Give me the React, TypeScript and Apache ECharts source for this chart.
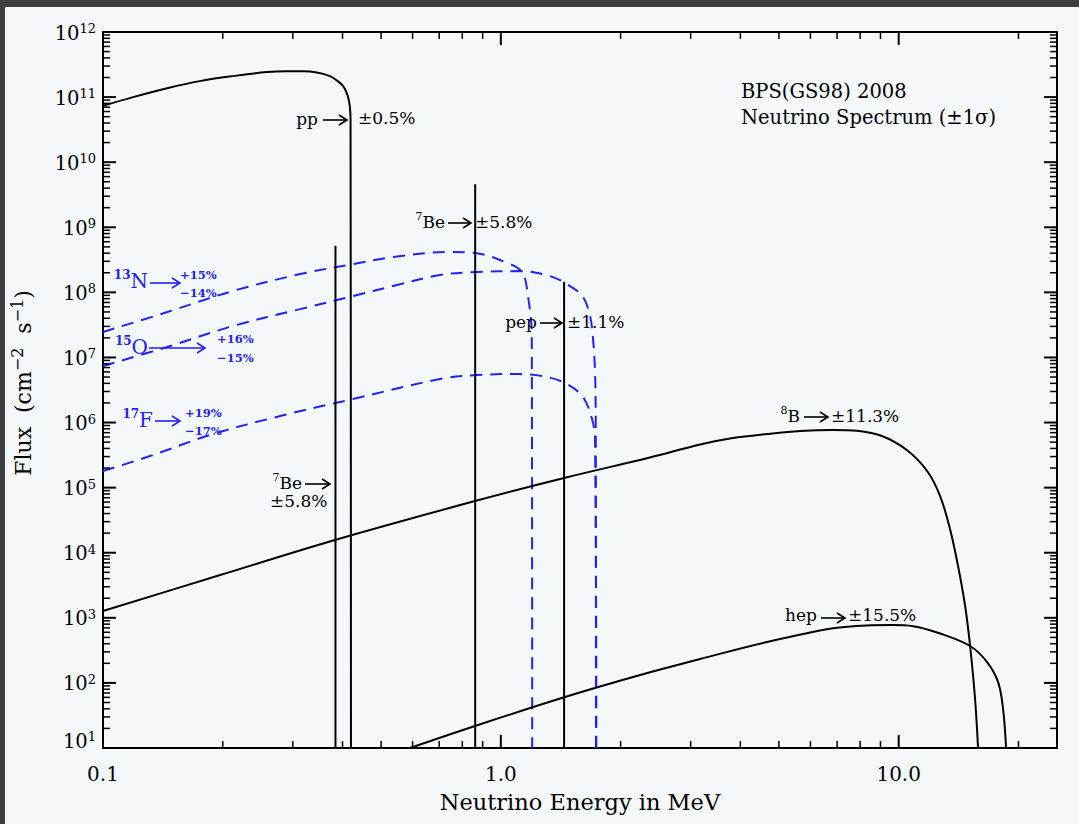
import React, { useEffect, useRef } from "react";
import * as echarts from "echarts";

// ---------- axes ----------
const X_MIN = 0.1;
const X_MAX = 25;
const Y_MIN = 10;
const Y_MAX = 1e12;
const X_MAJOR = [0.1, 1, 10];
const X_MAJOR_LABELS = ["0.1", "1.0", "10.0"];
const X_MINOR = [0.2, 0.3, 0.4, 0.5, 0.6, 0.7, 0.8, 0.9, 2, 3, 4, 5, 6, 7, 8, 9, 20];
const Y_EXPONENTS = [1, 2, 3, 4, 5, 6, 7, 8, 9, 10, 11, 12];
const Y_MINOR_MULT = [2, 3, 4, 5, 6, 7, 8, 9];

// ---------- spectra: [energy (MeV), flux] ----------
const PP = [
  [0.1, 7.35e10], [0.119, 1.0e11], [0.145, 1.37e11], [0.175, 1.76e11], [0.212, 2.1e11],
  [0.258, 2.42e11], [0.29, 2.5e11], [0.32, 2.5e11], [0.345, 2.38e11], [0.372, 2.1e11],
  [0.387, 1.8e11], [0.401, 1.49e11], [0.408, 1.23e11], [0.413, 1.0e11], [0.417, 7.4e10],
  [0.419, 4.6e10], [0.42, 10],
];
const BE7_384 = [[0.384, 10], [0.384, 5.2e8]];
const BE7_862 = [[0.862, 10], [0.862, 4.6e9]];
const PEP = [[1.442, 10], [1.442, 1.46e8]];
const N13 = [
  [0.1, 2.46e7], [0.145, 4.98e7], [0.212, 1.05e8], [0.313, 1.91e8], [0.425, 2.72e8],
  [0.536, 3.49e8], [0.733, 4.16e8], [0.861, 4.02e8], [1.025, 2.92e8], [1.13, 2.05e8],
  [1.17, 8.77e7], [1.196, 2.13e7], [1.199, 10],
];
const O15 = [
  [0.1, 7.38e6], [0.145, 1.45e7], [0.212, 3.04e7], [0.313, 5.53e7], [0.425, 8.77e7],
  [0.536, 1.25e8], [0.703, 1.85e8], [0.871, 2.05e8], [1.118, 2.12e8], [1.329, 1.78e8],
  [1.493, 1.25e8], [1.609, 8.47e7], [1.676, 4.33e7], [1.705, 1.92e7], [1.725, 5.97e6],
  [1.732, 7.9e5], [1.734, 10],
];
const F17 = [
  [0.1, 1.8e5], [0.129, 2.95e5], [0.189, 6.65e5], [0.279, 1.26e6], [0.425, 2.3e6],
  [0.703, 4.66e6], [0.871, 5.37e6], [1.098, 5.56e6], [1.307, 5.0e6], [1.467, 3.9e6],
  [1.609, 2.47e6], [1.695, 1.13e6], [1.725, 5.58e5], [1.738, 10],
];
const B8 = [
  [0.1, 1.27e3], [0.197, 4.54e3], [0.383, 1.57e4], [0.861, 6.22e4], [1.45, 1.42e5],
  [2.37, 2.9e5], [3.17, 4.6e5], [3.83, 5.78e5], [4.67, 6.66e5], [5.65, 7.4e5],
  [6.84, 7.67e5], [7.86, 7.45e5], [9.14, 6.1e5], [10.5, 3.75e5], [11.79, 1.8e5],
  [12.71, 7.43e4], [13.46, 2.31e4], [14.1, 6.25e3], [14.69, 1.52e3], [15.12, 369],
  [15.56, 56.6], [15.83, 10],
];
const HEP = [
  [0.591, 10], [0.861, 21.8], [1.45, 60.7], [2.24, 132], [3.17, 233], [4.67, 425],
  [6.84, 690], [8.3, 765], [9.6, 775], [10.87, 745], [12.71, 575], [15.12, 369],
  [16.68, 209], [17.78, 103], [18.3, 39.7], [18.62, 10],
];

const FONT = '"DejaVu Serif", serif';
const BLUE = "#2420f0";
const BLACK = "#000000";

// ---------- tick data (value anchors on the frame) ----------
function buildTicks() {
  const t: number[][] = [];
  X_MAJOR.forEach((v, i) => {
    t.push([v, Y_MIN, 0, 1, i]);
    t.push([v, Y_MAX, 1, 1, -1]);
  });
  X_MINOR.forEach((v) => {
    t.push([v, Y_MIN, 0, 0, -1]);
    t.push([v, Y_MAX, 1, 0, -1]);
  });
  Y_EXPONENTS.forEach((e) => {
    const v = Math.pow(10, e);
    t.push([X_MIN, v, 2, 1, e]);
    t.push([X_MAX, v, 3, 1, -1]);
    if (e < 12) {
      Y_MINOR_MULT.forEach((m) => {
        t.push([X_MIN, m * v, 2, 0, -1]);
        t.push([X_MAX, m * v, 3, 0, -1]);
      });
    }
  });
  return t;
}

const Y_RICH = {
  b: { fontSize: 19.5, fontFamily: FONT, lineHeight: 22, fill: BLACK },
  s: { fontSize: 13, fontFamily: FONT, lineHeight: 14, verticalAlign: "top", fill: BLACK },
};

function renderTick(params: any, api: any) {
  const p = api.coord([api.value(0), api.value(1)]);
  const side = api.value(2);
  const major = api.value(3) === 1;
  const lab = api.value(4);
  const len = major ? 13 : 7;
  let x2 = p[0];
  let y2 = p[1];
  if (side === 0) y2 -= len;
  else if (side === 1) y2 += len;
  else if (side === 2) x2 += len;
  else x2 -= len;
  const children: any[] = [
    {
      type: "line",
      shape: { x1: p[0], y1: p[1], x2, y2 },
      style: { stroke: BLACK, lineWidth: major ? 2 : 1.5 },
    },
  ];
  if (side === 0 && lab >= 0) {
    children.push({
      type: "text",
      x: p[0],
      y: p[1] + 26,
      style: {
        text: X_MAJOR_LABELS[lab],
        fontSize: 20,
        fontFamily: FONT,
        fill: BLACK,
        align: "center",
        verticalAlign: "middle",
      },
    });
  }
  if (side === 2 && lab >= 0) {
    children.push({
      type: "text",
      x: p[0] - 7,
      y: p[1] + (lab === 1 ? -7 : 1),
      style: {
        text: "{b|10}{s|" + lab + "}",
        rich: Y_RICH,
        fill: BLACK,
        align: "right",
        verticalAlign: "middle",
      },
    });
  }
  return { type: "group", children };
}

// ---------- annotation helpers (pixel placement) ----------
function arrow(x1: number, x2: number, y: number, color: string) {
  return [
    { type: "line", z: 20, shape: { x1, y1: y, x2, y2: y }, style: { stroke: color, lineWidth: 1.6 } },
    {
      type: "polyline",
      z: 20,
      shape: { points: [[x2 - 8, y - 5], [x2, y], [x2 - 8, y + 5]] },
      style: { stroke: color, lineWidth: 1.6, fill: "none" },
    },
  ];
}
function txt(x: number, y: number, text: string, rich: any, align: string, color: string) {
  return {
    type: "text",
    z: 20,
    x,
    y,
    style: { text, rich, fill: color, align, verticalAlign: "middle" },
  };
}
const BK_RICH = {
  m: { fontSize: 17, fontFamily: FONT, lineHeight: 22, fill: BLACK },
  s: { fontSize: 11, fontFamily: FONT, lineHeight: 13, verticalAlign: "top", fill: BLACK },
};
const BL_RICH = {
  m: { fontSize: 20, fontFamily: FONT, lineHeight: 24, fill: BLUE },
  s: { fontSize: 12, fontFamily: FONT, fontWeight: "bold", lineHeight: 14, verticalAlign: "top", fill: BLUE },
  p: { fontSize: 11.5, fontFamily: FONT, fontWeight: "bold", lineHeight: 14, fill: BLUE },
};
const TITLE_RICH = {
  t: { fontSize: 19.5, fontFamily: FONT, fill: BLACK },
};
const AX_RICH = {
  a: { fontSize: 22.5, fontFamily: FONT, lineHeight: 28, fill: BLACK },
  s: { fontSize: 16, fontFamily: FONT, lineHeight: 17, verticalAlign: "top", fill: BLACK },
};
const YT_RICH = {
  a: { fontSize: 22, fontFamily: FONT, lineHeight: 28, fill: BLACK },
  s: { fontSize: 16, fontFamily: FONT, lineHeight: 17, verticalAlign: "top", fill: BLACK },
};

function buildGraphics() {
  const g: any[] = [];
  // pp
  g.push(txt(318, 119, "{m|pp}", BK_RICH, "right", BLACK));
  g.push(...arrow(323, 347, 120, BLACK));
  g.push(txt(358, 118, "{m|±0.5%}", BK_RICH, "left", BLACK));
  // 7Be upper
  g.push(txt(445, 222, "{s|7}{m|Be}", BK_RICH, "right", BLACK));
  g.push(...arrow(448, 471, 223, BLACK));
  g.push(txt(475, 222, "{m|±5.8%}", BK_RICH, "left", BLACK));
  // pep
  g.push(txt(537, 322, "{m|pep}", BK_RICH, "right", BLACK));
  g.push(...arrow(540, 562, 323, BLACK));
  g.push(txt(567, 322, "{m|±1.1%}", BK_RICH, "left", BLACK));
  // 7Be lower
  g.push(txt(302, 483, "{s|7}{m|Be}", BK_RICH, "right", BLACK));
  g.push(...arrow(305, 330, 484, BLACK));
  g.push(txt(270, 501, "{m|±5.8%}", BK_RICH, "left", BLACK));
  // 8B
  g.push(txt(800, 416, "{s|8}{m|B}", BK_RICH, "right", BLACK));
  g.push(...arrow(804, 828, 417, BLACK));
  g.push(txt(831, 416, "{m|±11.3%}", BK_RICH, "left", BLACK));
  // hep
  g.push(txt(817, 615, "{m|hep}", BK_RICH, "right", BLACK));
  g.push(...arrow(821, 845, 618, BLACK));
  g.push(txt(848, 615, "{m|±15.5%}", BK_RICH, "left", BLACK));
  // 13N
  g.push(txt(148, 281, "{s|13}{m|N}", BL_RICH, "right", BLUE));
  g.push(...arrow(150, 180, 283, BLUE));
  g.push(txt(180, 275, "{p|+15%}", BL_RICH, "left", BLUE));
  g.push(txt(180, 293, "{p|−14%}", BL_RICH, "left", BLUE));
  // 15O
  g.push(txt(148, 347, "{s|15}{m|O}", BL_RICH, "right", BLUE));
  g.push(...arrow(149, 205, 348, BLUE));
  g.push(txt(217, 339, "{p|+16%}", BL_RICH, "left", BLUE));
  g.push(txt(217, 358, "{p|−15%}", BL_RICH, "left", BLUE));
  // 17F
  g.push(txt(153, 420, "{s|17}{m|F}", BL_RICH, "right", BLUE));
  g.push(...arrow(155, 180, 421, BLUE));
  g.push(txt(185, 413, "{p|+19%}", BL_RICH, "left", BLUE));
  g.push(txt(185, 431, "{p|−17%}", BL_RICH, "left", BLUE));
  // title block
  g.push(txt(741, 91, "{t|BPS(GS98) 2008}", TITLE_RICH, "left", BLACK));
  g.push(txt(741, 117, "{t|Neutrino Spectrum (±1σ)}", TITLE_RICH, "left", BLACK));
  // axis titles
  g.push(txt(580, 802, "{a|Neutrino Energy in MeV}", AX_RICH, "center", BLACK));
  g.push({
    type: "text",
    z: 20,
    x: 23,
    y: 383,
    rotation: Math.PI / 2,
    style: {
      text: "{a|Flux  (cm}{s|−2}{a|  s}{s|−1}{a|)}",
      rich: YT_RICH,
      fill: BLACK,
      align: "center",
      verticalAlign: "middle",
    },
  });
  return g;
}

function lineSeries(name: string, data: number[][], color: string, dashed: boolean) {
  return {
    name,
    type: "line",
    data,
    symbol: "none",
    showSymbol: false,
    smooth: 0.35,
    silent: true,
    clip: true,
    z: dashed ? 2 : 3,
    lineStyle: { color, width: 2, type: dashed ? [12, 8] : "solid" },
  };
}

export default function App() {
  const ref = useRef<HTMLDivElement>(null);
  useEffect(() => {
    if (!ref.current) return;
    const chart = echarts.init(ref.current, null, { renderer: "svg" });
    const axisCommon = {
      type: "log",
      logBase: 10,
      axisLine: { show: false },
      axisTick: { show: false },
      axisLabel: { show: false },
      splitLine: { show: false },
      minorTick: { show: false },
    };
    chart.setOption({
      animation: false,
      grid: {
        left: 103,
        top: 32,
        width: 954,
        height: 716,
        show: true,
        borderColor: BLACK,
        borderWidth: 2,
        backgroundColor: "transparent",
      },
      xAxis: { ...axisCommon, min: X_MIN, max: X_MAX },
      yAxis: { ...axisCommon, min: Y_MIN, max: Y_MAX },
      series: [
        lineSeries("13N", N13, BLUE, true),
        lineSeries("15O", O15, BLUE, true),
        lineSeries("17F", F17, BLUE, true),
        lineSeries("pp", PP, BLACK, false),
        lineSeries("7Be 0.384", BE7_384, BLACK, false),
        lineSeries("7Be 0.862", BE7_862, BLACK, false),
        lineSeries("pep", PEP, BLACK, false),
        lineSeries("8B", B8, BLACK, false),
        lineSeries("hep", HEP, BLACK, false),
        {
          type: "custom",
          name: "ticks",
          data: buildTicks(),
          encode: { x: 0, y: 1 },
          renderItem: renderTick,
          silent: true,
          clip: false,
          z: 10,
        },
      ],
      graphic: { elements: buildGraphics() },
    });
    return () => chart.dispose();
  }, []);
  return (
    <div style={{ position: "fixed", left: 0, top: 0, width: 1079, height: 824, background: "#3d3f42" }}>
      <div style={{ position: "absolute", left: 5, top: 7, right: 0, bottom: 0, background: "#f5f8fb" }} />
      <div ref={ref} style={{ position: "absolute", left: 0, top: 0, width: 1079, height: 824 }} />
    </div>
  );
}
